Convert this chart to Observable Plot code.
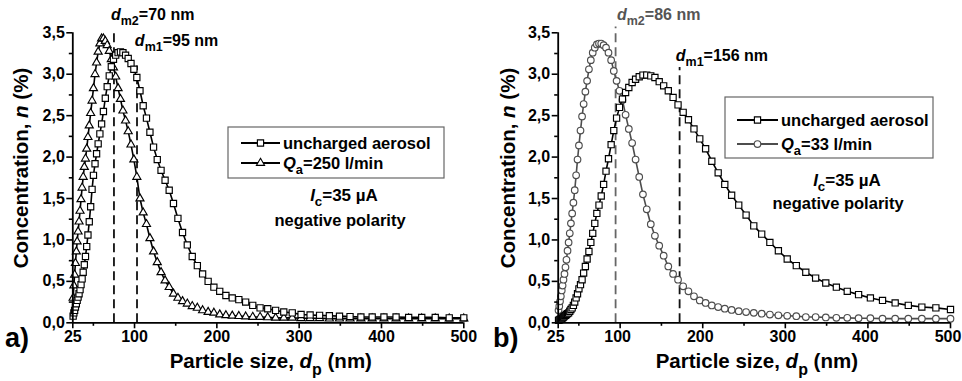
<!DOCTYPE html>
<html><head><meta charset="utf-8">
<script src="https://cdn.jsdelivr.net/npm/d3@7"></script>
<script src="https://cdn.jsdelivr.net/npm/@observablehq/plot@0.6"></script>
<style>
body{margin:0;background:#fff;}
#wrap{position:relative;width:962px;height:381px;overflow:hidden;background:#fff;}
.panel{position:absolute;top:0;}
</style></head><body><div id="wrap"></div>
<script>
// Particle size grid (nm)
const sizes = [25.4, 26.3, 27.2, 28.2, 29.3, 30.3, 31.4, 32.6, 33.8, 35.0,
  36.3, 37.6, 39.0, 40.4, 41.9, 43.4, 45.0, 46.7, 48.4, 50.1,
  52.0, 53.9, 55.8, 57.9, 60.0, 62.2, 64.5, 66.8, 69.3, 71.8,
  74.4, 77.1, 80.0, 82.9, 85.9, 89.1, 92.3, 95.7, 99.2, 102.8,
  106.6, 110.5, 114.5, 118.7, 123.1, 127.6, 132.2, 137.1, 142.1, 147.3,
  152.7, 158.3, 164.1, 170.1, 176.3, 182.7, 189.4, 196.4, 203.5, 211.0,
  218.7, 226.7, 235.0, 243.6, 252.5, 261.8, 271.4, 281.3, 291.6, 302.3,
  313.3, 324.8, 336.7, 349.0, 361.8, 375.0, 388.7, 403.0, 417.7, 433.0,
  448.9, 465.3, 482.3, 500.0];

// Panel a) uncharged aerosol
const aUncharged = [0.08, 0.12, 0.15, 0.19, 0.23, 0.27, 0.31, 0.35, 0.40, 0.46,
  0.53, 0.61, 0.70, 0.80, 0.92, 1.06, 1.22, 1.40, 1.61, 1.78,
  1.92, 2.04, 2.16, 2.28, 2.40, 2.55, 2.71, 2.85, 2.98, 3.09,
  3.18, 3.23, 3.26, 3.27, 3.26, 3.23, 3.19, 3.13, 3.06, 2.96,
  2.80, 2.62, 2.47, 2.30, 2.12, 1.97, 1.84, 1.72, 1.60, 1.44,
  1.26, 1.09, 0.94, 0.80, 0.69, 0.59, 0.50, 0.43, 0.38, 0.33,
  0.30, 0.28, 0.25, 0.21, 0.18, 0.17, 0.15, 0.13, 0.12, 0.10,
  0.095, 0.09, 0.085, 0.08, 0.075, 0.07, 0.07, 0.07, 0.07, 0.065,
  0.065, 0.065, 0.06, 0.06];
// Panel a) Qa = 250 l/min
const aQ250 = [0.30, 0.45, 0.58, 0.72, 0.86, 0.98, 1.10, 1.22, 1.35, 1.49,
  1.63, 1.76, 1.88, 1.98, 2.10, 2.24, 2.38, 2.53, 2.68, 2.83,
  3.00, 3.14, 3.27, 3.37, 3.43, 3.43, 3.40, 3.35, 3.28, 3.18,
  3.08, 2.97, 2.83, 2.70, 2.56, 2.44, 2.31, 2.15, 1.97, 1.76,
  1.50, 1.33, 1.19, 1.02, 0.86, 0.73, 0.61, 0.51, 0.43, 0.35,
  0.30, 0.26, 0.23, 0.20, 0.18, 0.15, 0.13, 0.12, 0.10, 0.09,
  0.085, 0.08, 0.075, 0.07, 0.07, 0.065, 0.06, 0.06, 0.06, 0.055,
  0.055, 0.055, 0.05, 0.05, 0.05, 0.05, 0.05, 0.05, 0.05, 0.05,
  0.05, 0.05, 0.05, 0.05];
// Panel b) uncharged aerosol
const bUncharged = [0.03, 0.035, 0.04, 0.045, 0.05, 0.06, 0.07, 0.08, 0.09, 0.10,
  0.11, 0.12, 0.14, 0.16, 0.18, 0.21, 0.25, 0.30, 0.35, 0.41,
  0.46, 0.52, 0.60, 0.68, 0.77, 0.86, 0.97, 1.08, 1.20, 1.32,
  1.42, 1.53, 1.67, 1.83, 1.98, 2.15, 2.32, 2.47, 2.60, 2.70,
  2.78, 2.84, 2.90, 2.94, 2.97, 2.99, 2.99, 2.98, 2.96, 2.91,
  2.86, 2.80, 2.72, 2.63, 2.54, 2.45, 2.34, 2.22, 2.10, 1.95,
  1.81, 1.67, 1.54, 1.42, 1.30, 1.17, 1.07, 0.97, 0.87, 0.77,
  0.69, 0.61, 0.54, 0.48, 0.43, 0.38, 0.34, 0.30, 0.27, 0.24,
  0.21, 0.19, 0.18, 0.16];
// Panel b) Qa = 33 l/min
const bQ33 = [0.15, 0.20, 0.26, 0.32, 0.39, 0.45, 0.52, 0.59, 0.67, 0.76,
  0.87, 0.97, 1.08, 1.20, 1.32, 1.45, 1.60, 1.78, 1.97, 2.14,
  2.32, 2.49, 2.64, 2.79, 2.92, 3.06, 3.17, 3.26, 3.32, 3.36,
  3.37, 3.37, 3.35, 3.32, 3.26, 3.17, 3.04, 2.92, 2.80, 2.69,
  2.51, 2.34, 2.17, 1.97, 1.76, 1.55, 1.37, 1.19, 1.05, 0.93,
  0.81, 0.68, 0.59, 0.52, 0.44, 0.38, 0.32, 0.27, 0.24, 0.21,
  0.19, 0.17, 0.155, 0.14, 0.13, 0.12, 0.11, 0.10, 0.09, 0.085,
  0.08, 0.07, 0.07, 0.065, 0.06, 0.06, 0.055, 0.055, 0.05, 0.05,
  0.05, 0.05, 0.05, 0.05];

const xTicks = [25, 100, 200, 300, 400, 500];
const xMinorTicks = [50, 150, 250, 350, 450];
const yTicks = [0, 0.5, 1, 1.5, 2, 2.5, 3, 3.5];
const yMinorTicks = [0.25, 0.75, 1.25, 1.75, 2.25, 2.75, 3.25];

// dashed marker lines (positions as drawn) and labels
const dashA = [75, 103], dashATop = [3.5, 3.1];
const dashB = [94.5, 172], dashBTop = [3.57, 3.08];
const labelsA = ["70", "95"], labelsB = ["86", "156"];

const FONT = '"Liberation Sans", Arial, sans-serif';

function rich(g, x, y, parts, o = {}) {
  const size = o.size || 16;
  const t = g.append("text").attr("x", x).attr("y", y)
    .attr("font-size", size).attr("font-weight", "bold")
    .attr("font-family", FONT)
    .attr("text-anchor", o.anchor || "start").attr("fill", o.fill || "black");
  let shift = 0;
  parts.forEach(p => {
    if (typeof p === "string") p = {t: p};
    const target = p.sub ? size * 0.32 : 0;
    const sp = t.append("tspan").text(p.t).attr("dy", target - shift);
    shift = target;
    if (p.sub) sp.attr("font-size", size * 0.78);
    if (p.it) sp.attr("font-style", "italic");
  });
  if (o.rotate) t.attr("transform", `rotate(-90 ${x} ${y})`);
  return t;
}

function panel(cfg) {
  const s1 = sizes.map((d, i) => ({d, n: cfg.v1[i]}));
  const s2 = sizes.map((d, i) => ({d, n: cfg.v2[i]}));
  const dashes = cfg.dash.map((x, i) => ({x, top: cfg.dashTop[i], c: cfg.dashColor[i]}));
  const plot = Plot.plot({
    width: cfg.width, height: 381,
    marginLeft: cfg.ml, marginRight: cfg.mr, marginTop: 32.3, marginBottom: 58.7,
    x: {domain: [25, 500]},
    y: {domain: [0, 3.5]},
    style: {fontFamily: FONT, fontSize: "16px", fontWeight: "bold", color: "black", background: "white", overflow: "visible"},
    marks: [
      Plot.ruleX(dashes, {x: "x", y1: 0, y2: "top", stroke: "c", strokeDasharray: "9,5", strokeWidth: 1.8}),
      Plot.line(s2, {x: "d", y: "n", stroke: cfg.c2, strokeWidth: 1.6}),
      Plot.dot(s2, {x: "d", y: "n", symbol: cfg.sym2, r: cfg.r2, fill: "white", stroke: cfg.c2, strokeWidth: 1.15}),
      Plot.line(s1, {x: "d", y: "n", stroke: "black", strokeWidth: 1.6}),
      Plot.dot(s1, {x: "d", y: "n", symbol: "square", r: 3.5, fill: "white", stroke: "black", strokeWidth: 1.15}),
      Plot.axisX(xTicks, {tickSize: 6, tickFormat: () => "", label: null, strokeWidth: 1.6}),
      Plot.axisX(xTicks, {tickSize: 0, tickPadding: 8, label: null, fontSize: 16, dx: cfg.xLabelDx}),
      Plot.axisX(xMinorTicks, {tickSize: 3.5, tickFormat: () => "", label: null, strokeWidth: 1.6}),
      Plot.axisY(yTicks, {tickSize: 6, tickPadding: 2, label: null, strokeWidth: 1.6, fontSize: 16,
        tickFormat: d => d.toFixed(1).replace(".", ",")}),
      Plot.axisY(yMinorTicks, {tickSize: 3.5, tickFormat: () => "", label: null, strokeWidth: 1.6}),
      Plot.ruleY([0], {strokeWidth: 1.8}),
      Plot.ruleX([25], {strokeWidth: 1.8})
    ]
  });
  const div = document.createElement("div");
  div.className = "panel";
  div.style.left = cfg.left + "px";
  div.appendChild(plot);
  document.getElementById("wrap").appendChild(div);

  const sx = plot.scale("x"), sy = plot.scale("y");
  const svg = d3.select(plot.tagName.toLowerCase() === "svg" ? plot : plot.querySelector("svg"));
  const g = svg.append("g");

  // axis titles
  rich(g, (sx.apply(25) + sx.apply(500)) / 2 + 3, 368,
    ["Particle size, ", {t: "d", it: true}, {t: "p", sub: true}, " (nm)"], {size: 20.5, anchor: "middle"});
  rich(g, cfg.yTitleX, 168, ["Concentration, ", {t: "n", it: true}, " (%)"], {size: 20.5, anchor: "middle", rotate: true});
  rich(g, cfg.tagX, 347, [cfg.tag], {size: 27});

  // annotations for dashed lines
  cfg.ann.forEach(a => {
    rich(g, sx.apply(a.x), sy.apply(a.y),
      [{t: "d", it: true}, {t: a.sub, sub: true}, "=" + a.label + " nm"], {size: 16, fill: a.fill});
  });

  // legend
  const L = cfg.legend;
  g.append("rect").attr("x", L.x).attr("y", L.y).attr("width", L.w).attr("height", L.h)
    .attr("fill", "white").attr("stroke", "#666").attr("stroke-width", 1.2);
  const entries = [
    {sym: d3.symbolSquare, r: 3.5, c: "black", parts: ["uncharged aerosol"]},
    {sym: cfg.sym2 === "triangle" ? d3.symbolTriangle : d3.symbolCircle, r: cfg.r2, c: cfg.c2,
      parts: [{t: "Q", it: true}, {t: "a", sub: true}, "=" + L.q + " l/min"]}
  ];
  entries.forEach((e, i) => {
    const yy = L.rows[i];
    g.append("line").attr("x1", L.lx1).attr("x2", L.lx2).attr("y1", yy).attr("y2", yy)
      .attr("stroke", e.c).attr("stroke-width", 1.8);
    g.append("path").attr("d", d3.symbol(e.sym, Math.PI * e.r * e.r)())
      .attr("transform", `translate(${(L.lx1 + L.lx2) / 2},${yy})`)
      .attr("fill", "white").attr("stroke", e.c).attr("stroke-width", 1.15);
    rich(g, L.tx, yy + 6, e.parts, {size: L.size});
  });
  rich(g, cfg.note.x, cfg.note.y1, [{t: "I", it: true}, {t: "c", sub: true}, "=35 \u00b5A"], {size: 17, anchor: "middle"});
  rich(g, cfg.note.x2, cfg.note.y2, ["negative polarity"], {size: 16.5, anchor: "middle"});
}

panel({
  left: 0, width: 481, ml: 72.3, mr: 17.7, xLabelDx: 0,
  v1: aUncharged, v2: aQ250, sym2: "triangle", r2: 3.0, c2: "black",
  dash: dashA, dashTop: dashATop, dashColor: ["#111", "#111"],
  yTitleX: 28, tag: "a)", tagX: 5,
  ann: [
    {x: 72, y: 3.65, sub: "m2", label: labelsA[0], fill: "black"},
    {x: 101, y: 3.34, sub: "m1", label: labelsA[1], fill: "black"}
  ],
  legend: {x: 228, y: 127, w: 216, h: 51, rows: [143, 163], lx1: 241, lx2: 280, tx: 283, size: 16.5, q: "250"},
  note: {x: 344, y1: 201, x2: 340, y2: 226}
});

panel({
  left: 480, width: 482, ml: 77.7, mr: 12, xLabelDx: -2.5,
  v1: bUncharged, v2: bQ33, sym2: "circle", r2: 3.3, c2: "#4d4d4d",
  dash: dashB, dashTop: dashBTop, dashColor: ["#666", "#111"],
  yTitleX: 35, tag: "b)", tagX: 13,
  ann: [
    {x: 96.8, y: 3.65, sub: "m2", label: labelsB[0], fill: "#555"},
    {x: 168, y: 3.15, sub: "m1", label: labelsB[1], fill: "black"}
  ],
  legend: {x: 245, y: 97, w: 208, h: 61, rows: [120, 144], lx1: 257, lx2: 298, tx: 301, size: 16.5, q: "33"},
  note: {x: 367, y1: 186, x2: 358, y2: 209}
});
</script>
</body></html>
